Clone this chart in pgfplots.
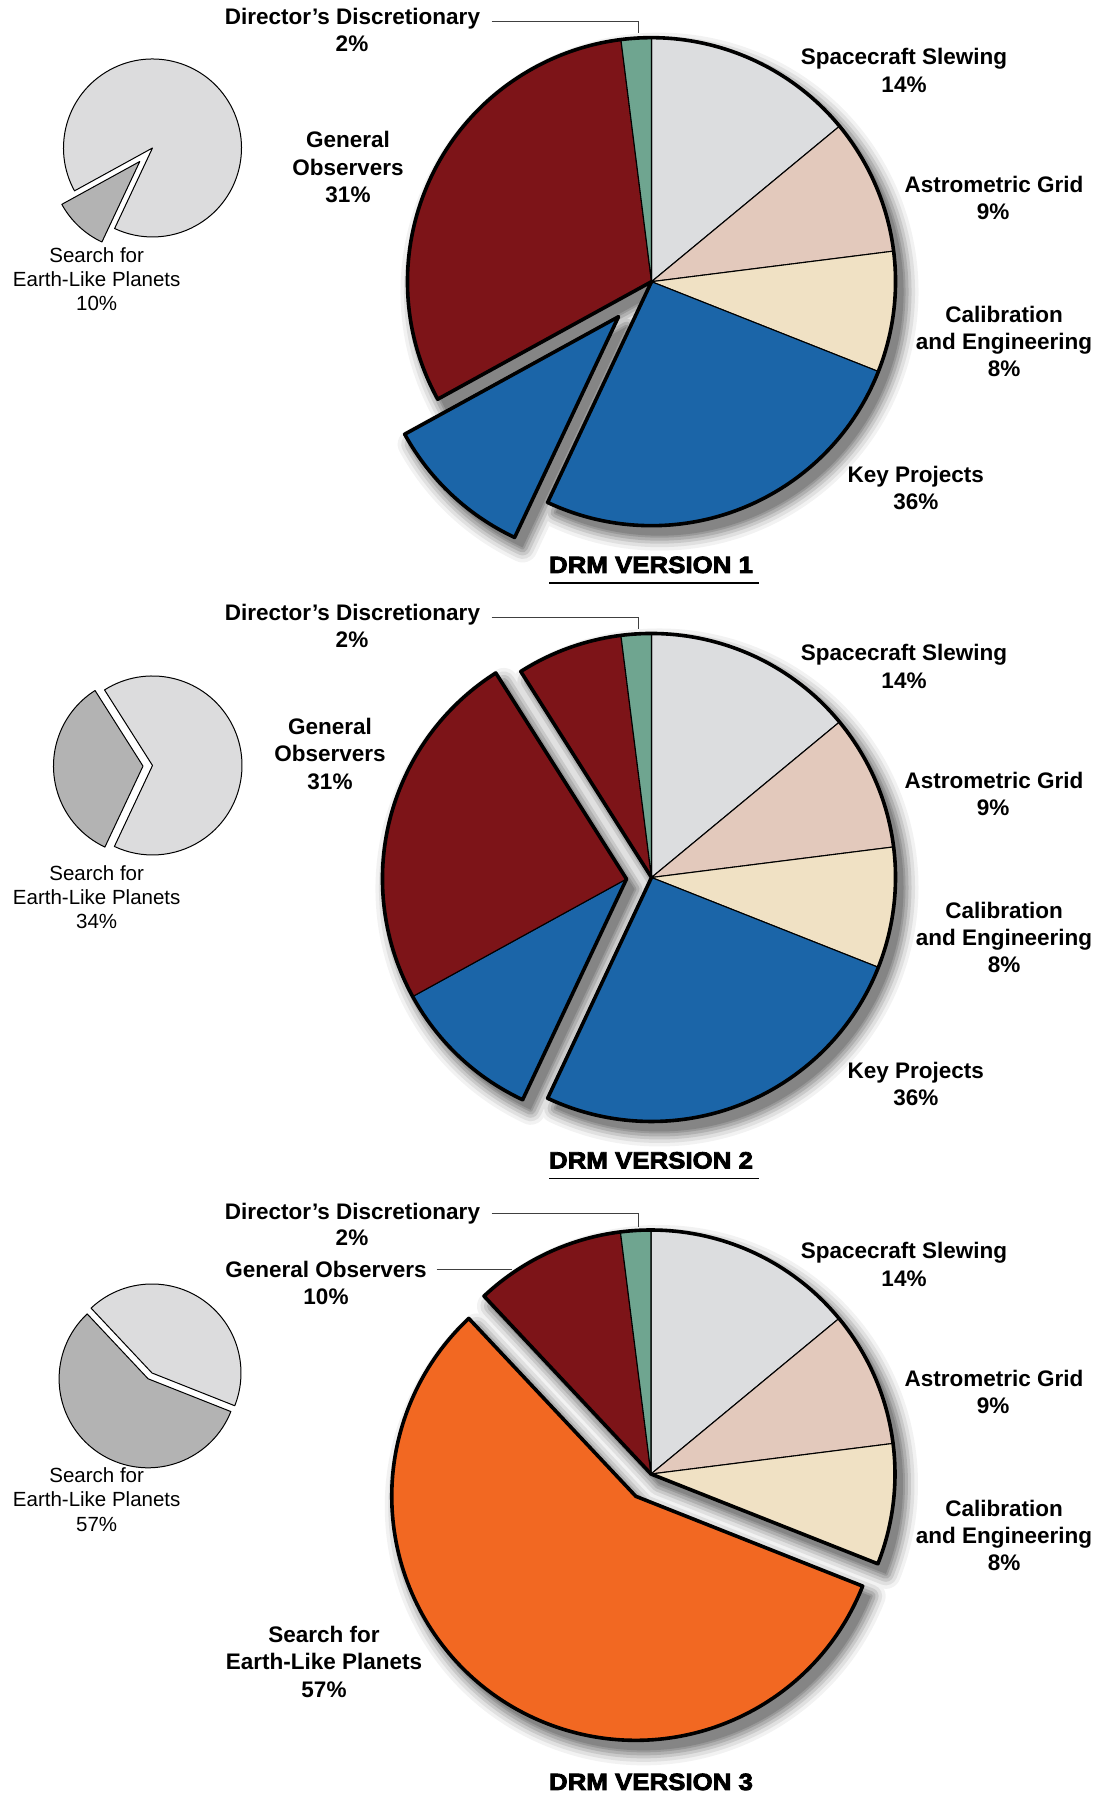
\documentclass[border=0pt]{standalone}
\usepackage{pgfplots}
\pgfplotsset{compat=1.18}
\usepackage{fontspec}
\setmainfont{Liberation Sans}
\newfontfamily\titlefont{Liberation Sans Bold}[FakeBold=3.5,FakeStretch=1.1]
\definecolor{cSlew}{HTML}{DCDDDF}
\definecolor{cAstro}{HTML}{E3C9BC}
\definecolor{cCal}{HTML}{F0E1C4}
\definecolor{cKey}{HTML}{1B65A8}
\definecolor{cGO}{HTML}{7D1418}
\definecolor{cDD}{HTML}{6FA590}
\definecolor{cSearch}{HTML}{F26822}
\definecolor{cInL}{HTML}{DCDCDD}
\definecolor{cInD}{HTML}{B3B3B3}
% wedge: cx, cy, r, cumulative start percent, percent, style (clockwise from 12 o'clock)
\newcommand\pwedge[6]{\path[#6] (axis cs:{#1+#3*cos(90-3.6*(#4))},{#2+#3*sin(90-3.6*(#4))}) arc[start angle={90-3.6*(#4)},end angle={90-3.6*(#4+#5)},radius=#3] -- (axis cs:#1,#2) -- cycle;}
\newcommand\shadowlayers[1]{%
 #1{draw=black!5,fill=black!5,line width=30pt,line join=round}%
 #1{draw=black!12,fill=black!12,line width=23pt,line join=round}%
 #1{draw=black!21,fill=black!21,line width=16pt,line join=round}%
 #1{draw=black!31,fill=black!31,line width=10pt,line join=round}%
 #1{draw=black!40,fill=black!40,line width=4pt,line join=round}%
 #1{fill=black!48}}
% shadow shapes (offset +8,-10)
\newcommand\shA[1]{\pwedge{659.5}{1504.3}{244}{67}{90}{#1}\pwedge{626.5}{1469.3}{244}{57}{10}{#1}}
\newcommand\shB[1]{\pwedge{659.5}{908.5}{244}{91}{66}{#1}\pwedge{634.5}{907}{244}{57}{34}{#1}}
\newcommand\shC[1]{\pwedge{659}{312}{244}{88}{43}{#1}\pwedge{643.8}{289.7}{244}{31}{57}{#1}}
\newcommand\lab[4][]{\node[anchor=base,inner sep=0pt,#1] at (axis cs:#2,{1796-#3}) {#4};}
\tikzset{thinline/.style={draw=black,line width=1.1pt,line join=round},
 thickline/.style={draw=black,line width=3.6pt,line join=round},
 inline/.style={draw=black,line width=1pt,line join=round},
 mainlab/.style={font=\fontsize{22.5}{27}\selectfont\bfseries},
 inlab/.style={font=\fontsize{20.5}{24}\selectfont},
 ttl/.style={font=\titlefont\fontsize{23.5}{28}\selectfont},
 leader/.style={draw=black!75,line width=1pt}}
\begin{document}
\begin{tikzpicture}
\begin{axis}[x=1pt,y=1pt,xmin=0,xmax=1109,ymin=0,ymax=1796,hide axis]
\path (axis cs:0,0) rectangle (axis cs:1109,1796);
% ---------- shadows
\shadowlayers\shA
\shadowlayers\shB
\shadowlayers\shC
% ---------- DRM version 1
\pwedge{651.5}{1514.3}{244}{0}{14}{fill=cSlew,thinline}
\pwedge{651.5}{1514.3}{244}{14}{9}{fill=cAstro,thinline}
\pwedge{651.5}{1514.3}{244}{23}{8}{fill=cCal,thinline}
\pwedge{651.5}{1514.3}{244}{31}{26}{fill=cKey,thinline}
\pwedge{651.5}{1514.3}{244}{67}{31}{fill=cGO,thinline}
\pwedge{651.5}{1514.3}{244}{98}{2}{fill=cDD,thinline}
\pwedge{651.5}{1514.3}{244}{67}{90}{thickline}
\pwedge{618.5}{1479.3}{244}{57}{10}{fill=cKey,thickline}
% ---------- DRM version 2
\pwedge{651.5}{918.5}{244}{0}{14}{fill=cSlew,thinline}
\pwedge{651.5}{918.5}{244}{14}{9}{fill=cAstro,thinline}
\pwedge{651.5}{918.5}{244}{23}{8}{fill=cCal,thinline}
\pwedge{651.5}{918.5}{244}{31}{26}{fill=cKey,thinline}
\pwedge{651.5}{918.5}{244}{91}{7}{fill=cGO,thinline}
\pwedge{651.5}{918.5}{244}{98}{2}{fill=cDD,thinline}
\pwedge{651.5}{918.5}{244}{91}{66}{thickline}
\pwedge{626.5}{917}{244}{57}{10}{fill=cKey,thinline}
\pwedge{626.5}{917}{244}{67}{24}{fill=cGO,thinline}
\pwedge{626.5}{917}{244}{57}{34}{thickline}
% ---------- DRM version 3
\pwedge{651}{322}{244}{0}{14}{fill=cSlew,thinline}
\pwedge{651}{322}{244}{14}{9}{fill=cAstro,thinline}
\pwedge{651}{322}{244}{23}{8}{fill=cCal,thinline}
\pwedge{651}{322}{244}{88}{10}{fill=cGO,thinline}
\pwedge{651}{322}{244}{98}{2}{fill=cDD,thinline}
\pwedge{651}{322}{244}{88}{43}{thickline}
\pwedge{635.8}{299.7}{244}{31}{57}{fill=cSearch,thickline}
% ---------- inset pies
\pwedge{152.5}{1648}{89}{67}{90}{fill=cInL,inline}
\pwedge{139.8}{1634.5}{89}{57}{10}{fill=cInD,inline}
\pwedge{152.5}{1030.5}{89.5}{91}{66}{fill=cInL,inline}
\pwedge{143}{1029.9}{89.5}{57}{34}{fill=cInD,inline}
\pwedge{152}{423}{89}{88}{43}{fill=cInL,inline}
\pwedge{148.1}{417.2}{89}{31}{57}{fill=cInD,inline}
% ---------- leaders
\draw[leader] (axis cs:491.7,1774.3) -- (axis cs:638.3,1774.3) -- (axis cs:638.3,1762.7);
\draw[leader] (axis cs:491.7,1178.3) -- (axis cs:638.3,1178.3) -- (axis cs:638.3,1166.7);
\draw[leader] (axis cs:491.7,582) -- (axis cs:638.3,582) -- (axis cs:638.3,569.3);
\draw[leader] (axis cs:436.7,526.7) -- (axis cs:511.7,526.7);
% ---------- labels version 1
\lab[mainlab]{352.5}{25}{Director’s Discretionary}
\lab[mainlab]{352}{52}{2\%}
\lab[mainlab]{904}{65}{Spacecraft Slewing}
\lab[mainlab]{904}{93}{14\%}
\lab[mainlab]{994}{193}{Astrometric Grid}
\lab[mainlab]{993}{220}{9\%}
\lab[mainlab]{1004}{323}{Calibration}
\lab[mainlab]{1004}{350}{and Engineering}
\lab[mainlab]{1004}{377}{8\%}
\lab[mainlab]{915.8}{483}{Key Projects}
\lab[mainlab]{915.8}{510}{36\%}
\lab[mainlab]{348}{148}{General}
\lab[mainlab]{348}{175.5}{Observers}
\lab[mainlab]{348}{203}{31\%}
\lab[inlab]{96.7}{263}{Search for}
\lab[inlab]{96.7}{287}{Earth-Like Planets}
\lab[inlab]{96.7}{311}{10\%}
\lab[ttl]{651}{573}{DRM VERSION 1}
\draw[line width=1.3pt] (axis cs:549,1213) -- (axis cs:759,1213);
% ---------- labels version 2
\lab[mainlab]{352.5}{621}{Director’s Discretionary}
\lab[mainlab]{352}{648}{2\%}
\lab[mainlab]{904}{661}{Spacecraft Slewing}
\lab[mainlab]{904}{689}{14\%}
\lab[mainlab]{994}{789}{Astrometric Grid}
\lab[mainlab]{993}{816}{9\%}
\lab[mainlab]{1004}{919}{Calibration}
\lab[mainlab]{1004}{946}{and Engineering}
\lab[mainlab]{1004}{973}{8\%}
\lab[mainlab]{915.8}{1079}{Key Projects}
\lab[mainlab]{915.8}{1106}{36\%}
\lab[mainlab]{330}{734.4}{General}
\lab[mainlab]{330}{761.9}{Observers}
\lab[mainlab]{330}{789.4}{31\%}
\lab[inlab]{96.7}{881}{Search for}
\lab[inlab]{96.7}{905}{Earth-Like Planets}
\lab[inlab]{96.7}{929}{34\%}
\lab[ttl]{651}{1168.5}{DRM VERSION 2}
\draw[line width=1.3pt] (axis cs:549,617.5) -- (axis cs:759,617.5);
% ---------- labels version 3
\lab[mainlab]{352.5}{1219.5}{Director’s Discretionary}
\lab[mainlab]{352}{1246}{2\%}
\lab[mainlab]{904}{1259}{Spacecraft Slewing}
\lab[mainlab]{904}{1287}{14\%}
\lab[mainlab]{994}{1387}{Astrometric Grid}
\lab[mainlab]{993}{1414}{9\%}
\lab[mainlab]{1004}{1517}{Calibration}
\lab[mainlab]{1004}{1544}{and Engineering}
\lab[mainlab]{1004}{1571}{8\%}
\lab[mainlab]{326}{1277.4}{General Observers}
\lab[mainlab]{326}{1305}{10\%}
\lab[mainlab]{324}{1643}{Search for}
\lab[mainlab]{324}{1670}{Earth-Like Planets}
\lab[mainlab]{324}{1698}{57\%}
\lab[inlab]{96.7}{1483}{Search for}
\lab[inlab]{96.7}{1507}{Earth-Like Planets}
\lab[inlab]{96.7}{1531.5}{57\%}
\lab[ttl]{651}{1790}{DRM VERSION 3}
\end{axis}
\end{tikzpicture}
\end{document}
